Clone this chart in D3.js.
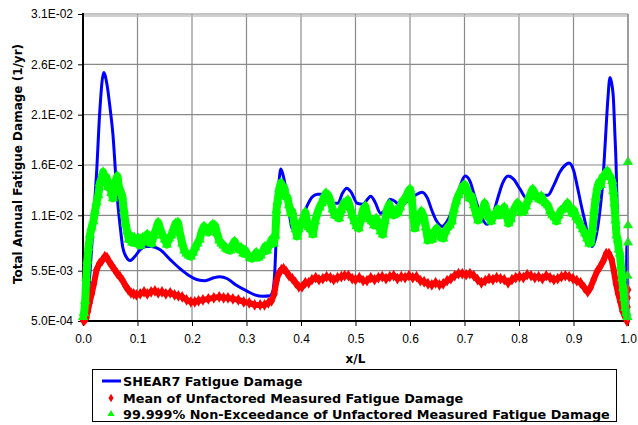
<!DOCTYPE html>
<html>
<head>
<meta charset="utf-8">
<script src="https://cdn.jsdelivr.net/npm/d3@7"></script>
<style>
  html, body { margin: 0; padding: 0; background: #fff; }
  svg { display: block; font-family: "Liberation Sans", Arial, sans-serif; }
  .tick text { font-size: 12px; fill: #000; }
  .lbl { font-family: "DejaVu Sans", sans-serif; font-weight: bold; font-size: 12px; }
  .leg { font-family: "DejaVu Sans", sans-serif; font-weight: bold; font-size: 12.8px; }
</style>
</head>
<body>
<svg id="chart" width="638" height="425"></svg>
<script>
// damage values below are in units of 1e-3 (1/yr)
const UNIT = 1e-3;

const X_TICKS = [0, 0.1, 0.2, 0.3, 0.4, 0.5, 0.6, 0.7, 0.8, 0.9, 1.0];
const X_TICK_LABELS = ["0.0", "0.1", "0.2", "0.3", "0.4", "0.5", "0.6", "0.7", "0.8", "0.9", "1.0"];
const Y_TICKS = [0.0005, 0.0055, 0.011, 0.016, 0.021, 0.026, 0.031];
const Y_TICK_LABELS = ["5.0E-04", "5.5E-03", "1.1E-02", "1.6E-02", "2.1E-02", "2.6E-02", "3.1E-02"];

const SERIES_NAMES = [
  "SHEAR7 Fatigue Damage",
  "Mean of Unfactored Measured Fatigue Damage",
  "99.999% Non-Exceedance of Unfactored Measured Fatigue Damage",
];

// SHEAR7 predicted damage [x/L, damage]
const SHEAR7 = [
  [0.000, 0.5], [0.004, 0.8], [0.007, 1.5], [0.010, 3.0], [0.013, 5.5], [0.018, 9.5],
  [0.025, 15.3], [0.031, 21.5], [0.038, 25.2], [0.044, 24.0], [0.050, 21.5], [0.055, 19.0],
  [0.060, 15.0], [0.064, 12.1], [0.069, 9.5], [0.073, 7.8], [0.080, 6.8], [0.086, 6.5],
  [0.095, 6.9], [0.105, 7.6], [0.115, 7.9], [0.125, 7.9], [0.141, 7.6], [0.160, 6.6],
  [0.178, 5.7], [0.195, 5.0], [0.210, 4.6], [0.224, 4.5], [0.240, 4.8], [0.251, 4.9],
  [0.265, 4.7], [0.280, 4.1], [0.300, 3.5], [0.315, 3.1], [0.330, 2.95], [0.343, 3.0],
  [0.348, 3.4], [0.352, 5.5], [0.356, 11.1], [0.360, 14.5], [0.363, 15.6], [0.368, 14.8],
  [0.374, 13.0], [0.379, 11.0], [0.384, 9.7], [0.392, 9.8], [0.400, 10.6], [0.410, 11.8],
  [0.420, 12.8], [0.430, 13.1], [0.438, 13.1], [0.448, 12.7], [0.458, 12.2], [0.468, 12.2],
  [0.476, 13.2], [0.484, 13.7], [0.492, 13.3], [0.503, 12.2], [0.514, 12.1], [0.522, 12.6],
  [0.528, 12.9], [0.536, 12.3], [0.546, 11.2], [0.555, 11.6], [0.563, 12.6], [0.572, 12.4],
  [0.580, 12.1], [0.590, 12.2], [0.600, 12.7], [0.610, 13.0], [0.622, 13.3], [0.632, 12.7],
  [0.640, 11.5], [0.648, 10.5], [0.659, 9.9], [0.668, 10.4], [0.679, 11.7], [0.690, 13.6],
  [0.701, 14.9], [0.710, 14.4], [0.719, 12.8], [0.730, 11.0], [0.741, 10.1], [0.750, 10.7],
  [0.761, 12.7], [0.770, 14.2], [0.780, 14.9], [0.790, 14.6], [0.802, 13.6], [0.814, 12.7],
  [0.825, 12.8], [0.840, 13.0], [0.853, 13.0], [0.864, 14.0], [0.875, 15.3], [0.885, 16.0],
  [0.892, 16.2], [0.900, 15.5], [0.908, 13.6], [0.915, 11.8], [0.921, 10.4], [0.928, 8.6],
  [0.934, 7.9], [0.940, 8.6], [0.949, 11.7], [0.954, 14.5], [0.958, 18.0], [0.963, 22.5],
  [0.967, 24.7], [0.971, 23.8], [0.973, 22.8], [0.976, 19.0], [0.978, 16.3], [0.980, 12.0],
  [0.982, 8.1], [0.986, 5.0], [0.989, 3.2], [0.993, 1.8], [0.995, 1.2], [0.997, 4.0],
  [0.998, 8.1], [0.999, 8.1], [1.000, 0.5],
];

// mean of measured damage [x/L, damage]
const MEAN = [
  [0.000, 0.6], [0.003, 0.6], [0.006, 0.8], [0.009, 1.5], [0.012, 2.3], [0.016, 3.2],
  [0.020, 4.2], [0.025, 5.6], [0.030, 6.2], [0.035, 6.5], [0.040, 6.9], [0.044, 6.8],
  [0.048, 6.4], [0.053, 6.0], [0.058, 5.6], [0.063, 5.2], [0.068, 4.9], [0.073, 4.5],
  [0.078, 4.0], [0.083, 3.6], [0.088, 3.3], [0.093, 3.2], [0.098, 3.1], [0.105, 3.2],
  [0.112, 3.4], [0.118, 3.2], [0.125, 3.4], [0.132, 3.5], [0.138, 3.3], [0.145, 3.4],
  [0.152, 3.2], [0.160, 3.3], [0.168, 3.1], [0.175, 3.0], [0.182, 2.9], [0.190, 2.6],
  [0.198, 2.4], [0.205, 2.4], [0.212, 2.5], [0.220, 2.6], [0.230, 2.7], [0.240, 2.8],
  [0.250, 2.9], [0.258, 2.8], [0.266, 2.8], [0.275, 2.7], [0.285, 2.6], [0.295, 2.4],
  [0.305, 2.3], [0.315, 2.1], [0.325, 2.1], [0.333, 2.1], [0.340, 2.3], [0.346, 2.5],
  [0.351, 3.2], [0.355, 4.5], [0.359, 5.2], [0.364, 5.6], [0.368, 5.7], [0.373, 5.4],
  [0.378, 5.0], [0.384, 4.7], [0.390, 4.3], [0.396, 3.9], [0.402, 3.9], [0.408, 4.3],
  [0.414, 4.3], [0.420, 4.6], [0.427, 4.8], [0.433, 4.6], [0.440, 4.7], [0.447, 4.9],
  [0.454, 4.8], [0.460, 4.6], [0.467, 4.8], [0.474, 4.9], [0.480, 5.0], [0.487, 5.0],
  [0.494, 4.7], [0.500, 4.6], [0.507, 4.8], [0.514, 4.5], [0.521, 4.5], [0.528, 4.8],
  [0.535, 4.6], [0.542, 4.8], [0.549, 4.9], [0.556, 4.7], [0.563, 4.9], [0.570, 5.0],
  [0.577, 4.7], [0.584, 4.9], [0.591, 4.8], [0.598, 5.0], [0.605, 4.8], [0.612, 4.9],
  [0.619, 4.5], [0.626, 4.4], [0.633, 4.2], [0.640, 4.1], [0.647, 4.3], [0.654, 4.1],
  [0.661, 4.2], [0.668, 4.5], [0.675, 4.7], [0.682, 5.0], [0.689, 5.2], [0.696, 5.2],
  [0.703, 5.1], [0.710, 5.2], [0.717, 5.0], [0.724, 4.6], [0.731, 4.3], [0.738, 4.5],
  [0.745, 4.7], [0.752, 4.6], [0.759, 4.8], [0.766, 4.7], [0.773, 4.6], [0.780, 4.3],
  [0.787, 4.6], [0.794, 4.8], [0.801, 4.9], [0.808, 4.8], [0.815, 5.1], [0.822, 5.0],
  [0.829, 4.8], [0.836, 4.9], [0.843, 4.7], [0.850, 5.0], [0.857, 4.8], [0.864, 4.6],
  [0.871, 4.7], [0.878, 4.9], [0.885, 5.0], [0.892, 4.9], [0.899, 4.7], [0.906, 4.5],
  [0.913, 4.3], [0.920, 3.8], [0.926, 3.4], [0.931, 3.8], [0.937, 4.6], [0.943, 5.4],
  [0.949, 5.9], [0.955, 6.5], [0.960, 7.2], [0.965, 7.2], [0.970, 6.6], [0.974, 5.5],
  [0.978, 4.2], [0.982, 3.2], [0.986, 2.4], [0.990, 1.5], [0.994, 1.0], [0.998, 0.5],
];
const MEAN_EDGE = [[0.999, 2.8], [1.000, 3.6], [0.999, 1.9]];

// 99.999% non-exceedance of measured damage [x/L, damage]
const NONEXC = [
  [0.000, 0.9], [0.002, 1.3], [0.004, 2.5], [0.006, 4.8], [0.008, 6.5], [0.010, 7.8],
  [0.013, 9.1], [0.016, 9.8], [0.019, 10.4], [0.022, 11.4], [0.025, 12.3], [0.028, 13.0],
  [0.031, 14.2], [0.034, 14.6], [0.037, 15.3], [0.040, 14.4], [0.043, 14.8], [0.046, 13.8],
  [0.049, 14.2], [0.052, 13.2], [0.055, 12.7], [0.058, 13.6], [0.061, 14.6], [0.063, 14.9],
  [0.066, 13.8], [0.069, 13.4], [0.072, 12.9], [0.075, 11.5], [0.078, 10.2], [0.081, 9.4],
  [0.084, 8.6], [0.087, 9.0], [0.090, 8.3], [0.094, 8.8], [0.098, 8.2], [0.102, 8.7],
  [0.106, 8.0], [0.110, 8.8], [0.114, 8.4], [0.118, 9.1], [0.122, 8.3], [0.126, 8.2],
  [0.130, 9.0], [0.134, 9.6], [0.138, 10.3], [0.142, 9.6], [0.146, 9.0], [0.150, 8.6],
  [0.154, 8.1], [0.158, 8.7], [0.162, 9.0], [0.166, 9.6], [0.170, 10.2], [0.174, 10.3],
  [0.178, 9.2], [0.182, 8.2], [0.186, 7.5], [0.190, 7.2], [0.194, 7.0], [0.198, 6.9],
  [0.202, 7.3], [0.206, 7.8], [0.210, 8.2], [0.214, 8.6], [0.218, 9.4], [0.222, 9.9],
  [0.226, 9.6], [0.230, 9.3], [0.234, 9.8], [0.238, 10.1], [0.242, 10.0], [0.246, 9.2],
  [0.250, 8.5], [0.254, 8.2], [0.258, 8.0], [0.262, 7.7], [0.266, 7.6], [0.270, 7.5],
  [0.274, 8.0], [0.278, 8.4], [0.282, 8.0], [0.286, 7.6], [0.290, 7.8], [0.294, 7.2],
  [0.298, 7.5], [0.302, 7.1], [0.306, 6.8], [0.310, 6.7], [0.314, 7.0], [0.318, 7.3],
  [0.322, 6.8], [0.326, 7.0], [0.330, 7.4], [0.334, 7.9], [0.338, 7.5], [0.342, 8.1],
  [0.346, 8.6], [0.350, 8.2], [0.353, 9.0], [0.355, 11.5], [0.357, 12.4], [0.360, 13.6],
  [0.363, 14.2], [0.366, 13.4], [0.369, 13.8], [0.372, 12.9], [0.375, 12.8], [0.378, 12.0],
  [0.381, 11.2], [0.384, 11.4], [0.387, 10.4], [0.390, 9.6], [0.393, 8.9], [0.396, 9.6],
  [0.399, 10.0], [0.402, 10.4], [0.405, 10.8], [0.408, 11.3], [0.411, 10.4], [0.414, 9.8],
  [0.418, 9.6], [0.422, 9.1], [0.426, 10.4], [0.430, 11.2], [0.434, 11.8], [0.438, 12.2],
  [0.442, 12.8], [0.446, 13.2], [0.450, 13.0], [0.454, 12.4], [0.458, 11.6], [0.462, 11.0],
  [0.466, 11.2], [0.470, 10.7], [0.474, 11.5], [0.478, 12.2], [0.482, 12.0], [0.486, 12.5],
  [0.490, 11.8], [0.494, 11.0], [0.498, 10.4], [0.502, 9.9], [0.506, 9.7], [0.510, 10.6],
  [0.514, 11.6], [0.518, 11.9], [0.522, 11.0], [0.526, 10.6], [0.530, 10.4], [0.534, 10.0],
  [0.538, 10.7], [0.542, 10.2], [0.546, 9.4], [0.550, 9.1], [0.554, 10.4], [0.558, 11.6],
  [0.562, 12.1], [0.566, 11.4], [0.570, 11.0], [0.574, 11.5], [0.578, 11.2], [0.582, 11.8],
  [0.586, 12.4], [0.590, 12.6], [0.594, 13.0], [0.597, 13.4], [0.600, 13.6], [0.603, 12.8],
  [0.606, 11.0], [0.609, 9.7], [0.613, 10.5], [0.617, 11.0], [0.621, 11.4], [0.625, 10.9],
  [0.629, 9.8], [0.633, 8.5], [0.637, 9.0], [0.641, 8.6], [0.645, 9.4], [0.649, 9.7],
  [0.653, 9.3], [0.657, 8.8], [0.661, 8.7], [0.665, 9.4], [0.669, 9.8], [0.673, 10.0],
  [0.677, 10.4], [0.681, 11.6], [0.685, 12.4], [0.689, 13.0], [0.693, 13.4], [0.697, 13.9],
  [0.701, 14.0], [0.705, 13.5], [0.709, 12.7], [0.713, 12.9], [0.717, 12.0], [0.721, 11.2],
  [0.725, 10.5], [0.729, 11.0], [0.733, 11.6], [0.737, 12.2], [0.741, 11.5], [0.745, 10.8],
  [0.749, 10.4], [0.753, 10.9], [0.757, 11.2], [0.761, 11.6], [0.765, 11.0], [0.769, 11.4],
  [0.773, 11.8], [0.777, 11.0], [0.781, 10.2], [0.785, 10.6], [0.789, 11.4], [0.793, 11.8],
  [0.797, 12.2], [0.801, 12.0], [0.805, 11.3], [0.809, 11.4], [0.813, 11.9], [0.817, 12.6],
  [0.821, 13.1], [0.825, 13.6], [0.829, 13.2], [0.833, 12.8], [0.837, 12.6], [0.841, 12.9],
  [0.845, 12.4], [0.849, 12.2], [0.853, 12.0], [0.857, 11.4], [0.861, 11.0], [0.865, 10.8],
  [0.869, 10.4], [0.873, 11.0], [0.877, 11.5], [0.881, 11.6], [0.885, 11.9], [0.889, 12.2],
  [0.893, 11.8], [0.897, 11.2], [0.901, 11.5], [0.905, 10.8], [0.909, 10.5], [0.913, 10.0],
  [0.917, 9.6], [0.921, 9.2], [0.925, 8.7], [0.929, 8.2], [0.932, 8.4], [0.935, 9.6],
  [0.938, 11.5], [0.941, 12.8], [0.944, 13.8], [0.947, 14.3], [0.950, 14.0], [0.953, 14.8],
  [0.956, 14.9], [0.959, 15.2], [0.962, 15.4], [0.965, 15.0], [0.968, 14.8], [0.971, 14.4],
  [0.973, 13.4], [0.975, 12.2], [0.977, 10.5], [0.979, 9.0], [0.981, 8.6], [0.983, 7.6],
  [0.985, 7.2], [0.987, 6.0], [0.989, 4.8], [0.991, 3.8], [0.993, 2.8], [0.995, 1.8],
  [0.997, 1.3], [0.999, 0.9],
];
const NONEXC_EDGE = [[1.000, 16.3], [1.000, 10.0], [1.000, 8.3], [0.999, 5.0]];

const svg = d3.select("#chart");
const L = 83, R = 628, T = 14, B = 321;
const x = d3.scaleLinear().domain([0, 1]).range([L, R]);
const y = d3.scaleLinear().domain([0.0005, 0.031]).range([B, T]);

// grid
const grid = svg.append("g").attr("stroke", "#8a8a8a").attr("stroke-width", 1.2);
grid.selectAll("line.v").data(X_TICKS.slice(1)).join("line")
  .attr("x1", (d) => x(d)).attr("x2", (d) => x(d)).attr("y1", T).attr("y2", B);
grid.selectAll("line.h").data(Y_TICKS.slice(1)).join("line")
  .attr("x1", L).attr("x2", R).attr("y1", (d) => y(d)).attr("y2", (d) => y(d));
svg.append("line").attr("x1", L).attr("x2", R).attr("y1", T + 2).attr("y2", T + 2)
  .attr("stroke", "#c0c0c0").attr("stroke-width", 1.5);

// axes
const xAxis = svg.append("g").attr("transform", `translate(0,${B})`)
  .call(d3.axisBottom(x).tickValues(X_TICKS).tickFormat((d, i) => X_TICK_LABELS[i]).tickSize(5).tickPadding(8));
const yAxis = svg.append("g").attr("transform", `translate(${L},0)`)
  .call(d3.axisLeft(y).tickValues(Y_TICKS).tickFormat((d, i) => Y_TICK_LABELS[i]).tickSize(5).tickPadding(5));
[xAxis, yAxis].forEach((a) => {
  a.select(".domain").remove();
  a.selectAll(".tick line").attr("stroke", "#000");
});
svg.append("line").attr("x1", L).attr("x2", L).attr("y1", T - 1).attr("y2", B + 1)
  .attr("stroke", "#000").attr("stroke-width", 2);
svg.append("line").attr("x1", L - 1).attr("x2", R + 1).attr("y1", B).attr("y2", B)
  .attr("stroke", "#000").attr("stroke-width", 2);

const plot = svg.append("g");
const px = (d) => x(d[0]);
const py = (d) => y(d[1] * UNIT);

// SHEAR7
plot.append("path").datum(SHEAR7)
  .attr("d", d3.line(px, py).curve(d3.curveMonotoneX))
  .attr("fill", "none").attr("stroke", "#0000ff").attr("stroke-width", 3).attr("stroke-linejoin", "round");

// mean (red diamonds, densely packed)
plot.append("path").datum(MEAN)
  .attr("d", d3.line(px, py))
  .attr("fill", "none").attr("stroke", "#ff0000").attr("stroke-width", 6).attr("stroke-linejoin", "round");
const diamond = d3.symbol(d3.symbolDiamond, 40)();
plot.append("g").selectAll("path").data(MEAN.concat(MEAN_EDGE)).join("path")
  .attr("d", diamond).attr("fill", "#ff0000")
  .attr("transform", (d) => `translate(${px(d)},${py(d)})`);

// non-exceedance (green triangles, densely packed)
plot.append("path").datum(NONEXC)
  .attr("d", d3.line(px, py))
  .attr("fill", "none").attr("stroke", "#00ff00").attr("stroke-width", 8).attr("stroke-linejoin", "round");
const tri = d3.symbol(d3.symbolTriangle, 45)();
plot.append("g").selectAll("path").data(NONEXC.concat(NONEXC_EDGE)).join("path")
  .attr("d", tri).attr("fill", "#00ff00")
  .attr("transform", (d) => `translate(${px(d)},${py(d)})`);

// right border
svg.append("line").attr("x1", R).attr("x2", R).attr("y1", T).attr("y2", B)
  .attr("stroke", "#8a8a8a").attr("stroke-width", 1.2);

// axis titles
svg.append("text").attr("class", "lbl").attr("text-anchor", "middle")
  .attr("transform", `translate(22,164) rotate(-90)`).text("Total Annual Fatigue Damage (1/yr)");
svg.append("text").attr("class", "lbl").attr("text-anchor", "middle")
  .attr("x", (L + R) / 2).attr("y", 363).text("x/L");

// legend
const leg = svg.append("g");
leg.append("rect").attr("x", 92.5).attr("y", 369.5).attr("width", 524).attr("height", 52)
  .attr("fill", "#fff").attr("stroke", "#000").attr("stroke-width", 1);
const rows = [381, 398, 414];
leg.append("line").attr("x1", 102).attr("x2", 121).attr("y1", rows[0]).attr("y2", rows[0])
  .attr("stroke", "#0000ff").attr("stroke-width", 3);
leg.append("path").attr("d", d3.symbol(d3.symbolDiamond, 22)()).attr("fill", "#ff0000")
  .attr("transform", `translate(111,${rows[1]})`);
leg.append("path").attr("d", d3.symbol(d3.symbolTriangle, 22)()).attr("fill", "#00ff00")
  .attr("transform", `translate(111,${rows[2]})`);
leg.selectAll("text").data(SERIES_NAMES).join("text").attr("class", "leg")
  .attr("x", 123).attr("y", (d, i) => rows[i]).attr("dy", "0.36em").text((d) => d);
</script>
</body>
</html>
